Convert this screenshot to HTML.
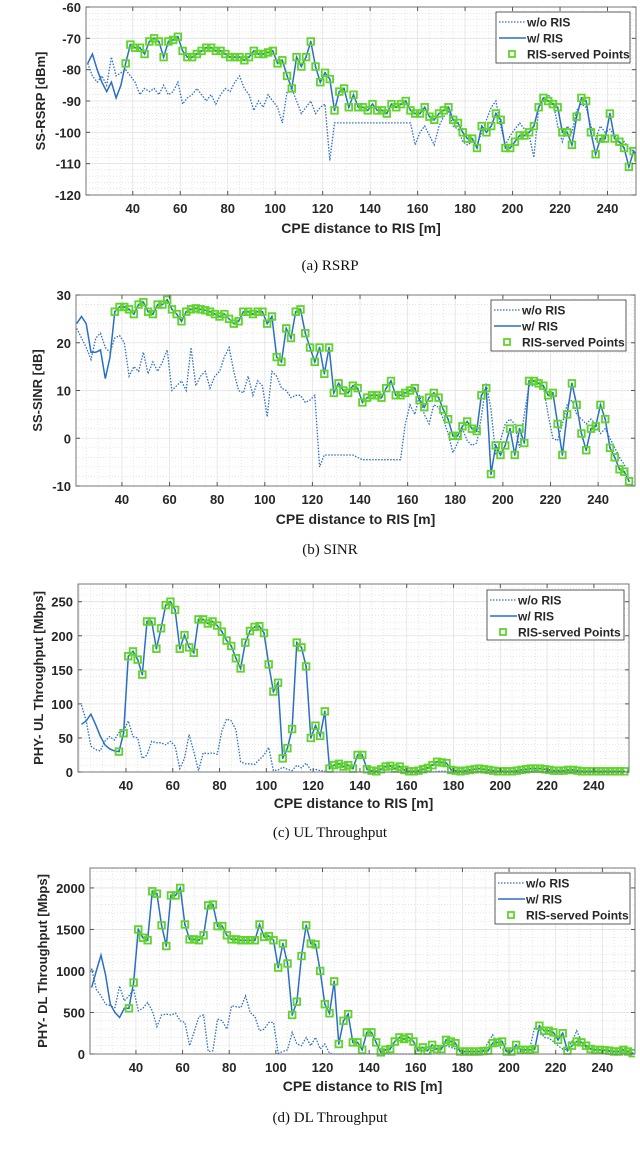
<!DOCTYPE html>
<html><head><meta charset="utf-8"><style>
html,body{margin:0;padding:0;background:#fff;}
svg{display:block;}
text{font-family:"Liberation Sans",sans-serif;}
.cap{font-family:"Liberation Serif",serif;font-size:15px;fill:#111;}
</style></head><body>
<svg id="fig" width="640" height="1151" viewBox="0 0 640 1151" xmlns="http://www.w3.org/2000/svg"></svg>
<script>
const distance = [21,23,25,27,29,31,33,35,37,39,41,43,45,47,49,51,53,55,57,59,61,63,65,67,69,71,73,75,77,79,81,83,85,87,89,91,93,95,97,99,101,103,105,107,109,111,113,115,117,119,121,123,125,127,129,131,133,135,137,139,141,143,145,147,149,151,153,155,157,159,161,163,165,167,169,171,173,175,177,179,181,183,185,187,189,191,193,195,197,199,201,203,205,207,209,211,213,215,217,219,221,223,225,227,229,231,233,235,237,239,241,243,245,247,249,251,253];
const servedFrom = 37;
const rsrpWith = [-78,-75,-80,-84,-87,-84,-89,-85,-78,-72, -73,-73,-75,-71,-70,-71,-76,-71,-70.5,-69.5, -74,-76,-76,-75,-74,-73,-73,-74,-74,-75, -76,-76,-76,-77,-76,-74,-75,-75,-74.5,-74, -78,-77,-82,-86,-76,-79,-76,-71,-79,-84, -81,-83,-93,-87,-86,-92,-88,-92,-92,-93, -91,-93,-93,-94,-91,-92,-91,-90,-93,-94, -94,-92,-95,-96,-94,-93,-92,-96,-97,-100, -102,-102,-105,-98,-100,-98,-94,-96,-105,-105, -103,-101,-101,-100,-98,-92,-89,-90,-91,-92, -100,-100,-104,-95,-89,-90,-100,-107,-102,-102, -94,-102,-103,-105,-111,-106,-108];
const rsrpWithout = [-78,-82,-84,-82,-85,-76,-82,-81,-80,-82, -84,-88,-86,-87,-86,-88,-85,-88,-87,-84, -91,-89,-88,-86,-88,-90,-88,-91,-88,-86, -87,-84,-82,-86,-88,-93,-90,-92,-88,-90, -92,-97,-87,-86,-90,-94,-92,-90,-94,-92, -91,-109,-97,-97,-97,-97,-97,-97,-97,-97, -97,-97,-97,-97,-97,-97,-97,-97,-97,-104, -100,-98,-101,-104,-98,-95,-93,-98,-99,-103, -104,-103,-104,-100,-96,-92,-90,-98,-104,-101, -99,-97,-99,-101,-108,-92,-90,-88,-90,-98, -103,-98,-100,-93,-91,-92,-98,-102,-98,-100, -99,-101,-104,-103,-105,-106,-109];
const sinrWith = [24,25.5,24,18,18,18.5,12.5,17,26.5,27.5, 27.5,27,26,28,28.5,26.5,26,28,28,29, 27,26,24.5,26.5,27,27.2,27,26.8,26.5,26, 25.5,26,25,24,24.5,26.5,26.5,26,26.5,26.5, 24,25.5,17,16,23,21,26.5,27,22,19, 16,19,13.5,19,9.5,11.5,10,9.5,11,10.5, 7.5,8.5,9,9,8.5,10.5,12,9,9,9.5, 10,10.5,8,6.5,8.5,9.5,8.5,6,4,0.5, 0.5,2.5,3.5,2,1.5,9,10.5,-7.5,-1.5,-3.5, -1.5,2,-3.5,2,-1,12,12,11.5,11,9, 9.5,3,-3.5,5,11.5,7,1,-2.5,2,2.5, 7,4,-2,-4,-6.5,-7,-9];
const sinrWithout = [23,21,19,16.5,21,22,19,18,21,21.5, 20,13,15,14,18,13.5,16,14,16,18.5, 10,11,12,10,19,11,13,14,10.5,13, 14,17,19,14,10,9.5,13,9,12,11, 4.5,14,13,10.5,10,8.5,9,9,7.5,8, 9,-6,-3.5,-3.5,-3.5,-3.5,-3.5,-3.5,-3.5,-4, -4.5,-4.5,-4.5,-4.5,-4.5,-4.5,-4.5,-4.5,-4.5,3, 7,5,9,5,3,7,6.5,4,1,-3, -1,2,-0.5,-1.5,-1,4.5,11.5,6,-3.5,-0.5, 3,4,3,-2,5,11,11,12.5,11,5, 0,-0.5,3,7,8,5,4,3,4,3, 1,2,0,-2,-4,-5.5,-8];
const ulWith = [70,75,85,70,53,40,34,31,30,57, 170,177,165,143,221,221,181,211,245,250, 238,181,201,183,175,224,224,218,221,215, 206,193,185,167,152,190,207,213,214,204, 158,118,131,20,35,63,190,183,155,50, 68,53,89,5,10,12,8,10,5,25, 25,4,2,1,4,8,9,5,8,3, 1,1,2,4,6,10,15,14,13,3, 2,1,2,3,4,5,4,3,2,1, 1,1,1,2,3,4,5,5,5,4, 3,2,2,2,3,3,2,1,1,1, 1,1,1,1,1,1,1];
const ulWithout = [98,75,38,33,31,45,52,47,58,60, 75,52,50,20,25,45,43,43,40,45, 38,5,20,55,30,2,28,27,28,26, 60,78,75,62,15,12,12,11,18,25, 36,2,3,7,4,2,10,6,13,3, 4,2,1,0,0,0,0,0,0,0, 0,0,0,0,0,0,0,0,0,0, 0,0,0,0,0,0,1,1,1,0, 0,0,0,0,0,0,0,0,0,0, 0,0,0,0,0,1,2,2,1,0, 0,0,0,0,0,0,0,0,0,0, 0,0,0,0,0,0,0];
const dlWith = [800,1000,1190,950,600,500,440,550,550,860, 1500,1400,1370,1960,1930,1550,1300,1910,1910,2000, 1560,1380,1380,1370,1430,1790,1800,1540,1540,1430, 1380,1380,1370,1370,1370,1370,1560,1410,1420,1370, 1040,1330,1090,470,630,1180,1550,1330,1320,1000, 600,490,875,120,400,480,140,140,50,260, 260,140,20,50,60,150,200,180,200,150, 40,80,40,110,60,60,170,150,130,30, 30,30,30,30,35,40,130,140,150,30, 30,110,50,50,50,60,340,280,280,260, 170,250,40,100,150,140,100,60,50,50, 45,40,30,30,50,30,10];
const dlWithout = [1030,780,700,600,580,560,820,640,700,780, 520,550,620,520,330,470,480,470,490,400, 380,100,270,450,470,30,40,420,400,300, 580,570,560,700,500,450,280,300,380,380, 10,30,50,260,120,100,200,100,200,60, 120,10,0,0,0,0,0,0,0,0, 0,0,0,0,0,0,0,0,0,0, 0,0,0,40,60,80,100,80,60,40, 30,30,30,30,40,140,230,100,60,30, 30,40,30,40,80,330,300,200,190,150, 100,60,50,150,280,150,80,70,60,50, 40,30,30,30,30,20,10];
const xTicks = [40,60,80,100,120,140,160,180,200,220,240];
const rsrpTicks = [-120,-110,-100,-90,-80,-70,-60];
const sinrTicks = [-10,0,10,20,30];
const ulTicks = [0,50,100,150,200,250];
const dlTicks = [0,500,1000,1500,2000];
const legendLabels = ["w/o RIS","w/ RIS","RIS-served Points"];

const NS="http://www.w3.org/2000/svg";
const svg=document.getElementById('fig');
const BLUE="#2a6fc4", GREEN="#5fd52a";
function el(tag,attrs,parent){const e=document.createElementNS(NS,tag);for(const k in attrs)e.setAttribute(k,attrs[k]);(parent||svg).appendChild(e);return e;}
const defs=el('defs',{});

const charts=[
 {id:'rsrp',L:86,R:636,T:7,B:195,xmin:20.3,xmax:252,ymin:-120,ymax:-60,yt:rsrpTicks,ysub:5,w:rsrpWith,wo:rsrpWithout,ylab:'SS-RSRP [dBm]',yx:41,xlabY:233,cap:'(a)  RSRP',capY:270,leg:[496,12,134,51]},
 {id:'sinr',L:76,R:635,T:295,B:486,xmin:20.7,xmax:255.5,ymin:-10,ymax:30,yt:sinrTicks,ysub:5,w:sinrWith,wo:sinrWithout,ylab:'SS-SINR [dB]',yx:38,xlabY:524,cap:'(b)  SINR',capY:554,leg:[491,300,135,51]},
 {id:'ul',L:78,R:629,T:584,B:772,xmin:19.5,xmax:255,ymin:0,ymax:276,yt:ulTicks,ysub:5,w:ulWith,wo:ulWithout,ylab:'PHY- UL Throughput [Mbps]',yx:39,xlabY:808,cap:'(c)  UL  Throughput',capY:837,leg:[487,590,137,50]},
 {id:'dl',L:90,R:635,T:868,B:1054,xmin:20.3,xmax:254,ymin:0,ymax:2240,yt:dlTicks,ysub:5,w:dlWith,wo:dlWithout,ylab:'PHY- DL Throughput [Mbps]',yx:43,xlabY:1091,cap:'(d)  DL  Throughput',capY:1122,leg:[495,873,135,51]}
];

charts.forEach(c=>{
 const g=el('g',{});
 
 
 const cp0=el('clipPath',{id:'clip-'+c.id},defs);
 el('rect',{x:c.L,y:c.T-4,width:c.R-c.L,height:c.B-c.T+8},cp0);
 const sx=v=>c.L+(v-c.xmin)/(c.xmax-c.xmin)*(c.R-c.L);
 const sy=v=>c.B-(v-c.ymin)/(c.ymax-c.ymin)*(c.B-c.T);
 el('rect',{x:c.L,y:c.T,width:c.R-c.L,height:c.B-c.T,fill:'#fff'},g);
 const mg=el('g',{stroke:'#d8d8d8','stroke-width':0.6,'stroke-dasharray':'1,2'},g);
 for(let v=Math.ceil(c.xmin/5)*5; v<=c.xmax; v+=5){ if(v%20!==0) el('line',{x1:sx(v),x2:sx(v),y1:c.T,y2:c.B},mg);}
 const ystep=(c.yt[1]-c.yt[0])/c.ysub;
 for(let v=c.yt[0]; v<=c.ymax; v+=ystep){ el('line',{x1:c.L,x2:c.R,y1:sy(v),y2:sy(v)},mg);}
 const gg=el('g',{stroke:'#e2e2e2','stroke-width':0.8},g);
 for(let v=20; v<=c.xmax; v+=20){ if(v>c.xmin) el('line',{x1:sx(v),x2:sx(v),y1:c.T,y2:c.B},gg);}
 c.yt.forEach(v=>el('line',{x1:c.L,x2:c.R,y1:sy(v),y2:sy(v)},gg));
 const sg=el('g',{'clip-path':'url(#clip-'+c.id+')'},g);
 const path=arr=>arr.map((v,i)=>(i?'L':'M')+sx(distance[i]).toFixed(1)+','+sy(v).toFixed(1)).join('');
 const wo=el('path',{d:path(c.wo),fill:'none',stroke:BLUE,'stroke-width':1.3,'stroke-dasharray':'1.5,1.5'},sg);
 
 
 const w=el('path',{d:path(c.w),fill:'none',stroke:BLUE,'stroke-width':1.5},sg);
 
 
 const mk=el('g',{},sg);
 
 
 c.w.forEach((v,i)=>{ if(distance[i]>=servedFrom){
   const r=el('rect',{x:sx(distance[i])-3.3,y:sy(v)-3.3,width:6.6,height:6.6,fill:'none',stroke:GREEN,'stroke-width':1.8},mk);
   
   
   el('circle',{cx:sx(distance[i]),cy:sy(v),r:0.9,fill:BLUE},mk);
 }});
 el('rect',{x:c.L,y:c.T,width:c.R-c.L,height:c.B-c.T,fill:'none',stroke:'#777','stroke-width':1},g);
 xTicks.forEach(v=>{
   el('line',{x1:sx(v),x2:sx(v),y1:c.B,y2:c.B-4,stroke:'#555'},g);
   el('line',{x1:sx(v),x2:sx(v),y1:c.T,y2:c.T+4,stroke:'#555'},g);
   const t=el('text',{x:sx(v),y:c.B+18,'text-anchor':'middle','font-size':13,'font-weight':'bold',fill:'#262626'},g);
   t.textContent=v;
   
   
 });
 c.yt.forEach(v=>{
   el('line',{x1:c.L,x2:c.L+4,y1:sy(v),y2:sy(v),stroke:'#555'},g);
   el('line',{x1:c.R,x2:c.R-4,y1:sy(v),y2:sy(v),stroke:'#555'},g);
   const t=el('text',{x:c.L-5,y:sy(v)+5,'text-anchor':'end','font-size':13,'font-weight':'bold',fill:'#262626'},g);
   t.textContent=v;
   
   
 });
 const xl=el('text',{x:(c.L+c.R)/2,y:c.xlabY,'text-anchor':'middle','font-size':14,'font-weight':'bold',fill:'#262626'},g);
 xl.textContent='CPE distance to RIS [m]';
 
 
 const yc=(c.T+c.B)/2, yx=c.yx+4;
 const yl=el('text',{x:yx,y:yc,'text-anchor':'middle','font-size':13,'font-weight':'bold',fill:'#262626',transform:'rotate(-90 '+yx+' '+yc+')'},g);
 yl.textContent=c.ylab;
 
 
 const cp=el('text',{x:330,y:c.capY,'text-anchor':'middle',class:'cap'},g);
 cp.textContent=c.cap;
 
 
 const [lx,ly,lw,lh]=c.leg;
 const lg=el('g',{},g);
 
 
 el('rect',{x:lx,y:ly,width:lw,height:lh,fill:'#fff',stroke:'#333','stroke-width':0.8},lg);
 legendLabels.forEach((lab,k)=>{
   const yy=ly+10+k*16;
   if(k===0) el('line',{x1:lx+3,x2:lx+30,y1:yy,y2:yy,stroke:BLUE,'stroke-width':1.3,'stroke-dasharray':'1.5,1.5'},lg);
   if(k===1) el('line',{x1:lx+3,x2:lx+30,y1:yy,y2:yy,stroke:BLUE,'stroke-width':1.5},lg);
   if(k===2) el('rect',{x:lx+13,y:yy-3,width:6,height:6,fill:'none',stroke:GREEN,'stroke-width':1.8},lg);
   const t=el('text',{x:lx+31,y:yy+4.5,'font-size':12,'font-weight':'bold',fill:'#262626'},lg);
   t.textContent=lab;
   
   
 });
});
</script>
</body></html>
